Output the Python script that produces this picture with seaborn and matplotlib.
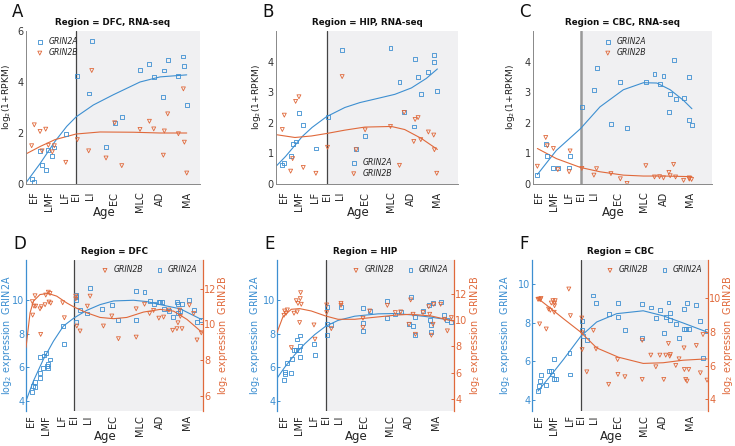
import matplotlib
matplotlib.use("Agg")
import matplotlib.pyplot as plt
import seaborn as sns
import numpy as np
import pandas as pd

sns.set_theme(style="white")
plt.rcParams["font.family"] = ["DejaVu Sans"]
plt.rcParams["xtick.direction"] = "in"
plt.rcParams["ytick.direction"] = "in"

BLUE = "#3d8fd1"
ORANGE = "#e0693b"
SHADE = "#f0f0f2"

# ---------------- data ----------------
STAGES = ["EF", "LMF", "LF", "EI", "LI", "EC", "MLC", "AD", "MA"]
STAGE_POS = [-38, -24.5, -10.3, 0, 12.2, 34.4, 58, 75.8, 100]

# Panel A (DFC, RNA-seq)
A_x = [-40.1, -37.7, -32.5, -30.7, -27.4, -25.0, -21.4, -19.6, -9.3, 1.2, 11.4, 14.2, 27.1,
       34.9, 41.3, 57.8, 66.3, 70.2, 78.9, 79.8, 82.8, 92.5, 97.0, 97.9, 100]
A_2A = [0.2, 0.07, 1.3, 0.74, 0.54, 1.33, 1.1, 1.43, 1.95, 4.22, 3.55, 5.6, 1.45, 2.4, 2.63,
        4.47, 4.7, 4.2, 3.4, 4.45, 4.85, 4.23, 5.0, 4.63, 3.1]
A_2B = [1.5, 2.32, 2.06, 1.3, 2.15, 1.52, 1.26, 1.5, 0.85, 1.74, 1.3, 4.45, 1.02, 2.4, 0.72,
        2.14, 2.46, 2.16, 1.13, 2.08, 2.75, 1.97, 3.73, 1.64, 0.43]
A_fit2A_x = [-45.2, -32.5, -19, -8.4, 0, 15.7, 33.7, 57.8, 75.9, 100]
A_fit2A_y = [0.05, 0.8, 1.67, 2.26, 2.63, 3.1, 3.5, 4.0, 4.2, 4.28]
A_fit2B_x = [-45.2, -32.5, -19, 0, 21.7, 51.8, 75.9, 100]
A_fit2B_y = [1.18, 1.47, 1.74, 1.96, 2.04, 2.03, 2.0, 2.0]

# Panel B (HIP, RNA-seq)
B_x = [-39.9, -38.1, -32.4, -30.6, -27.9, -24.9, -21.0, -9.6, 0.9, 14.1, 26.7, 34.8, 57.7,
       65.8, 70.0, 78.7, 79.9, 82.6, 85.0, 91.9, 96.7, 97.3, 99.4]
B_2A = [0.63, 0.68, 0.91, 1.3, 1.39, 2.32, 1.93, 1.16, 2.2, 4.38, 1.14, 1.58, 4.43, 3.34,
        2.34, 1.88, 4.09, 3.5, 2.94, 3.66, 4.0, 4.23, 3.05]
B_2B = [1.78, 2.25, 0.42, 0.83, 2.7, 2.85, 0.54, 0.35, 1.2, 3.51, 1.12, 1.77, 1.88, 0.61,
        2.34, 1.39, 2.11, 2.17, 1.45, 1.7, 1.6, 1.12, 0.35]
B_fit2A_x = [-45, -37, -30, -22, -13, 0, 16.5, 30, 46.5, 61.6, 76.6, 90, 100]
B_fit2A_y = [0.6, 0.9, 1.2, 1.55, 1.85, 2.2, 2.5, 2.66, 2.8, 2.93, 3.14, 3.45, 3.76]
B_fit2B_x = [-45, -28.5, -13.5, 0, 16.5, 34.5, 58.5, 70.5, 85.5, 100]
B_fit2B_y = [1.61, 1.52, 1.57, 1.65, 1.76, 1.86, 1.88, 1.78, 1.49, 1.13]

# Panel C (CBC, RNA-seq)
C_x = [-39.3, -31.7, -30.2, -24.7, -20.7, -10.4, -9.5, 1.2, 12.2, 14.6, 27.7, 36.3, 42.4,
       59.5, 67.4, 72.0, 75.6, 80.5, 81.7, 84.8, 86.6, 93.9, 99.1, 99.1, 101.2]
C_2A = [0.29, 1.32, 0.93, 0.51, 0.53, 0.54, 0.91, 2.53, 3.08, 3.79, 1.97, 3.32, 1.82, 3.32,
        3.59, 3.26, 3.53, 2.35, 2.95, 4.04, 2.79, 2.82, 3.5, 2.1, 1.93]
C_2B = [0.58, 1.52, 1.25, 1.16, 0.47, 0.4, 1.08, 0.51, 0.29, 0.5, 0.34, 0.17, 0.02, 0.6,
        0.23, 0.24, 0.2, 0.38, 0.27, 0.64, 0.23, 0.12, 0.2, 0.16, 0.15]
C_fit2A_x = [-39.3, -22, 0, 17.7, 39, 57.3, 69.5, 81.7, 93.9, 101.5]
C_fit2A_y = [0.31, 1.1, 1.81, 2.52, 3.08, 3.31, 3.3, 3.08, 2.73, 2.46]
C_fit2B_x = [-39.3, -22, 0, 17.7, 39, 57.3, 75.6, 101.5]
C_fit2B_y = [1.16, 0.83, 0.54, 0.4, 0.29, 0.26, 0.26, 0.24]

# Panel D (DFC, microarray)
D_2A_x = [-37.0, -36.1, -34.9, -34.3, -30.5, -30.2, -29.9, -27.8, -26.3, -25.1, -24.0, -23.4,
          -22.8, -21.3, -9.5, -8.6, 1.5, 1.5, 1.8, 2.1, 5.3, 11.8, 14.2, 25.1, 33.4, 39.3,
          55.0, 55.0, 62.4, 66.9, 70.4, 75.1, 76.3, 77.8, 79.3, 84.0, 87.3, 91.1, 92.0, 92.3,
          94.1, 95.6, 102.1, 105.9, 108.9, 112.7]
D_2A = [4.53, 4.89, 4.85, 5.13, 5.39, 5.64, 6.61, 5.96, 6.71, 6.83, 6.08, 6.18, 5.94, 6.47,
        8.44, 7.39, 8.73, 10.34, 10.2, 10.04, 9.4, 9.21, 10.71, 9.49, 9.74, 8.85, 10.53, 8.83,
        10.51, 9.98, 9.8, 9.92, 9.92, 9.9, 9.49, 9.36, 9.0, 9.92, 9.78, 9.25, 9.37, 9.8, 10.0,
        9.41, 8.71, 8.85]
D_2B_x = [-37.0, -36.7, -35.5, -34.6, -34.0, -30.2, -29.6, -29.0, -25.7, -25.1, -22.8, -22.2,
          -21.3, -20.7, -10.1, -8.6, 1.5, 1.5, 2.4, 5.3, 11.8, 14.2, 26.0, 33.4, 39.3, 55.0,
          55.0, 62.4, 66.9, 70.4, 75.1, 79.3, 84.0, 87.3, 91.1, 92.0, 93.5, 94.1, 95.6, 102.1,
          105.9, 108.9, 112.7]
D_2B = [11.27, 10.52, 11.02, 11.6, 11.02, 10.87, 9.44, 10.99, 11.1, 11.64, 11.8, 11.25, 11.73,
        11.19, 11.21, 10.37, 11.58, 11.43, 9.91, 9.63, 11.02, 11.58, 9.91, 10.47, 9.2, 10.87,
        9.29, 11.13, 10.61, 10.78, 10.35, 10.41, 10.8, 9.67, 9.76, 10.09, 10.8, 10.45, 9.76,
        11.08, 10.61, 9.13, 9.53]
D_fit2A_x = [-42.6, -36, -27.2, -18.3, -9.5, 0, 11.2, 23, 35, 52.7, 64.5, 76.3, 94, 113]
D_fit2A_y = [4.0, 5.19, 6.48, 7.56, 8.46, 8.95, 9.4, 9.74, 9.96, 10.0, 9.92, 9.74, 9.49, 8.85]
D_fit2B_x = [-42.6, -39, -36, -30.2, -22.8, -15.4, -6.5, 0, 11.2, 23, 35, 46.7, 61.5, 76.3,
             88.2, 100, 113]
D_fit2B_y = [8.7, 10.65, 11.3, 11.67, 11.73, 11.58, 11.2, 10.97, 10.65, 10.39, 10.32, 10.39,
             10.69, 10.84, 10.74, 10.28, 9.57]

# Panel E (HIP, microarray)
E_2A_x = [-37.8, -37.2, -36.6, -35.3, -31.1, -30.8, -29.0, -26.6, -25.7, -24.2, -23.6, -23.0,
          -23.0, -10.6, -9.7, 0.9, 0.9, 0.9, 5.1, 13.9, 33.8, 33.8, 33.8, 39.9, 55.9, 55.9,
          63.1, 68.0, 75.5, 77.6, 79.2, 81.3, 81.3, 88.2, 93.4, 94.3, 95.8, 95.8, 97.3, 104.2,
          106.9, 110.0, 113.9]
E_2A = [5.25, 5.58, 5.72, 6.28, 5.66, 6.51, 7.01, 7.01, 7.66, 7.01, 6.61, 7.9, 7.27, 7.37,
        6.75, 8.59, 7.94, 9.58, 8.55, 9.58, 8.65, 9.54, 8.16, 9.35, 9.94, 8.95, 9.15, 9.29,
        8.61, 10.2, 8.46, 8.99, 7.92, 9.35, 9.74, 8.85, 8.55, 8.12, 9.84, 9.9, 9.11, 8.81, 8.69]
E_2B_x = [-37.8, -37.2, -35.9, -34.7, -31.1, -28.7, -26.6, -25.7, -25.1, -23.6, -23.0, -22.7,
          -22.1, -10.6, -9.7, 0.9, 0.9, 5.1, 13.9, 13.9, 33.8, 33.8, 39.9, 55.9, 63.1, 68.0,
          75.5, 77.0, 79.2, 81.3, 88.2, 93.4, 94.3, 95.8, 97.3, 97.9, 104.2, 107.9, 110.3, 113.9]
E_2B = [10.36, 10.69, 10.52, 10.77, 7.91, 10.52, 11.47, 10.62, 11.27, 9.81, 11.63, 12.08, 11.2,
        9.63, 8.55, 11.15, 10.57, 9.35, 11.27, 11.12, 10.14, 9.43, 10.69, 11.12, 10.57, 10.62,
        9.68, 11.53, 10.44, 8.92, 10.57, 11.02, 10.44, 8.85, 9.68, 11.2, 11.2, 10.06, 9.18,
        10.19]
E_fit2A_x = [-44.1, -37.2, -28.1, -19, -10, 0, 11.2, 26.3, 47.4, 62.5, 77.6, 95.8, 115.4]
E_fit2A_y = [5.35, 6.0, 6.75, 7.4, 7.95, 8.45, 8.8, 9.05, 9.19, 9.21, 9.13, 8.99, 8.79]
E_fit2B_x = [-44.1, -38.7, -31.1, -23.6, -13, 0, 11.2, 26.3, 47.4, 65.6, 77.6, 95.8, 115.4]
E_fit2B_y = [9.05, 10.26, 10.82, 10.87, 10.69, 10.31, 10.06, 10.06, 10.24, 10.39, 10.44,
             10.31, 9.93]

# Panel F (CBC, microarray)
F_2A_x = [-39.3, -38.4, -37.2, -36.6, -31.7, -29.6, -27.1, -26.5, -25.0, -24.4, -22.9, -10.4,
          -9.5, 0.9, 1.2, 1.8, 5.5, 11.6, 14.0, 25.6, 33.8, 34.1, 40.5, 56.4, 56.4, 64.3, 68.9,
          72.6, 76.2, 78.0, 80.5, 81.7, 82.3, 87.2, 90.2, 94.8, 95.1, 96.3, 97.6, 99.1, 106.1,
          109.8, 112.2, 115.9]
F_2A = [4.46, 4.72, 4.98, 5.29, 4.76, 5.49, 5.49, 5.32, 6.1, 5.07, 5.07, 6.44, 5.32, 7.61,
        8.07, 7.3, 7.13, 9.41, 9.02, 8.45, 8.28, 9.02, 7.64, 8.97, 7.21, 8.79, 8.24, 8.64, 7.47,
        8.3, 9.05, 8.5, 8.16, 7.95, 7.21, 8.71, 7.68, 7.68, 9.02, 7.68, 8.93, 8.07, 6.18, 7.56]
F_2B_x = [-39.3, -38.4, -37.8, -37.2, -36.6, -31.7, -29.6, -28.0, -27.1, -25.6, -24.4, -24.1,
          -24.1, -23.5, -11.0, -9.5, 0.9, 1.2, 1.2, 5.5, 11.6, 14.0, 25.6, 33.8, 34.1, 40.5,
          56.4, 56.4, 64.3, 68.9, 72.6, 76.2, 78.0, 80.5, 81.7, 82.3, 87.2, 90.2, 94.8, 95.1,
          96.3, 97.6, 99.1, 106.1, 109.8, 112.2, 115.9]
F_2B = [9.93, 9.94, 8.47, 9.91, 9.98, 8.17, 9.35, 9.28, 9.71, 9.85, 9.16, 9.55, 9.71, 9.85,
        10.54, 8.96, 8.82, 6.95, 7.94, 5.63, 8.09, 6.99, 4.89, 6.36, 5.48, 5.34, 7.5, 5.18,
        6.62, 5.93, 6.62, 5.18, 6.62, 7.31, 6.56, 6.66, 6.01, 6.4, 7.05, 5.77, 5.18, 5.08,
        5.77, 7.19, 5.57, 7.84, 5.14]
F_fit2A_x = [-39.3, -28, -15.9, 0, 14.6, 32.9, 57.3, 75.6, 93.9, 115.9]
F_fit2A_y = [4.46, 5.24, 6.1, 7.3, 8.04, 8.47, 8.62, 8.36, 7.99, 7.52]
F_fit2B_x = [-39.3, -28, -15.9, 0, 14.6, 34.5, 57.3, 75.6, 93.9, 115.9]
F_fit2B_y = [9.98, 9.41, 8.78, 7.98, 7.05, 6.5, 6.13, 6.17, 6.32, 6.4]

# ---------------- layout ----------------
W, H = 735, 446
fig = plt.figure(figsize=(W / 100, H / 100), dpi=100)


def add_axes(l, r, t, b):
    return fig.add_axes([l / W, 1 - b / H, (r - l) / W, (b - t) / H])


def scatter(ax, x, y, marker, color, label):
    sns.scatterplot(x=x, y=y, ax=ax, marker=marker, s=8, facecolor="none",
                    edgecolor=color, linewidth=0.6, label=label, zorder=3)


def fitline(ax, x, y, color):
    sns.lineplot(x=x, y=y, ax=ax, color=color, lw=0.8, estimator=None, sort=False,
                 zorder=2)


def base_x(ax, xlim, pad, label_y, vline_color="#444444", vline_lw=0.9):
    ax.set_xlim(*xlim)
    ax.axvspan(0, xlim[1], color=SHADE, lw=0, zorder=0)
    ax.axvline(0, color=vline_color, lw=vline_lw, zorder=1)
    ax.set_xticks(STAGE_POS)
    ax.set_xticklabels(STAGES, rotation=90, fontsize=7, color="#222222")
    ax.tick_params(axis="x", length=2.5, width=0.6, color="#666666", pad=pad)
    ax.set_xlabel("Age", fontsize=8.5, color="#222222")
    ax.xaxis.set_label_coords(0.45, label_y)
    ax.set_facecolor("white")


def letter(x, y, s):
    fig.text(x / W, 1 - y / H, s, fontsize=12, ha="left", va="center", color="#111111")


def title(ax, s):
    ax.set_title(s, fontsize=6.3, fontweight="bold", pad=4, color="#111111")


top = [
    ("A", "Region = DFC, RNA-seq", (26, 200), (-45.2, 112), (0, 6), [0, 2, 4, 6], -0.074,
     A_x, A_2A, A_2B, A_fit2A_x, A_fit2A_y, A_fit2B_x, A_fit2B_y,
     dict(loc="upper left", bbox_to_anchor=(0.03, 0.99)), ("#444444", 0.9)),
    ("B", "Region = HIP, RNA-seq", (276, 458), (-45.6, 118.6), (0, 5), [0, 1, 2, 3, 4], -0.07,
     B_x, B_2A, B_2B, B_fit2A_x, B_fit2A_y, B_fit2B_x, B_fit2B_y,
     dict(loc="lower left", bbox_to_anchor=(0.38, 0.01)), ("#444444", 0.9)),
    ("C", "Region = CBC, RNA-seq", (533, 712), (-43.3, 119.8), (0, 5), [0, 1, 2, 3, 4], -0.09,
     C_x, C_2A, C_2B, C_fit2A_x, C_fit2A_y, C_fit2B_x, C_fit2B_y,
     dict(loc="upper left", bbox_to_anchor=(0.37, 0.99)), ("#999999", 1.8)),
]

for (let, ttl, (l, r), xlim, ylim, yt, ylx, x, y2a, y2b, fax, fay, fbx, fby, legkw, vl) in top:
    ax = add_axes(l, r, 31, 184)
    base_x(ax, xlim, 5.5, -0.145, *vl)
    scatter(ax, x, y2a, "s", BLUE, "GRIN2A")
    scatter(ax, x, y2b, "v", ORANGE, "GRIN2B")
    fitline(ax, fax, fay, BLUE)
    fitline(ax, fbx, fby, ORANGE)
    ax.set_ylim(*ylim)
    ax.set_yticks(yt)
    ax.tick_params(axis="y", labelsize=7, length=2.5, width=0.6, color="#666666",
                   labelcolor="#333333", pad=1.5)
    ax.set_ylabel("log$_2$(1+RPKM)", fontsize=6.6, color="#222222")
    ax.yaxis.set_label_coords(ylx, 0.57)
    for s in ["top", "right"]:
        ax.spines[s].set_visible(False)
    for s in ["left", "bottom"]:
        ax.spines[s].set_color("#888888")
        ax.spines[s].set_linewidth(0.7)
    h, lb = ax.get_legend_handles_labels()
    ax.legend(h, lb, frameon=False, prop={"style": "italic", "size": 5.6},
              handlelength=1.0, handletextpad=0.6, borderaxespad=0.2, labelspacing=0.25,
              **legkw)
    title(ax, ttl)
    letter(l - 14, 12, let)

bottom = [
    ("D", "Region = DFC", (26, 203), (-42.6, 114.2), (3.4, 12.4), (5.16, 13.6),
     [4, 6, 8, 10], [6, 8, 10, 12], -0.07, 1.075,
     D_2A_x, D_2A, D_2B_x, D_2B, D_fit2A_x, D_fit2A_y, D_fit2B_x, D_fit2B_y),
    ("E", "Region = HIP", (277, 454), (-44.1, 116.3), (3.4, 12.4), (3.1, 14.56),
     [4, 6, 8, 10], [4, 6, 8, 10, 12], -0.085, 1.08,
     E_2A_x, E_2A, E_2B_x, E_2B, E_fit2A_x, E_fit2A_y, E_fit2B_x, E_fit2B_y),
    ("F", "Region = CBC", (532, 708), (-44.8, 116.8), (3.43, 11.25), (3.31, 12.26),
     [4, 6, 8, 10], [4, 6, 8, 10], -0.115, 1.072,
     F_2A_x, F_2A, F_2B_x, F_2B, F_fit2A_x, F_fit2A_y, F_fit2B_x, F_fit2B_y),
]

for (let, ttl, (l, r), xlim, yl, yr, ytl, ytr, lx, rx,
     xa, ya, xb, yb, fax, fay, fbx, fby) in bottom:
    ax = add_axes(l, r, 260, 411)
    base_x(ax, xlim, 3, -0.125)
    ax2 = ax.twinx()
    scatter(ax, xa, ya, "s", BLUE, "GRIN2A")
    fitline(ax, fax, fay, BLUE)
    scatter(ax2, xb, yb, "v", ORANGE, "GRIN2B")
    fitline(ax2, fbx, fby, ORANGE)
    ax.set_ylim(*yl)
    ax2.set_ylim(*yr)
    ax.set_yticks(ytl)
    ax2.set_yticks(ytr)
    ax.tick_params(axis="y", labelsize=7, length=2.5, width=0.7, color=BLUE,
                   labelcolor=BLUE, pad=1)
    ax2.tick_params(axis="y", labelsize=7, length=2.5, width=0.7, color=ORANGE,
                    labelcolor=ORANGE, pad=1, direction="in")
    ax.set_ylabel("log$_2$ expression  GRIN2A", fontsize=6.9, color=BLUE)
    ax.yaxis.set_label_coords(lx, 0.5)
    ax2.set_ylabel("log$_2$ expression  GRIN2B", fontsize=6.9, color=ORANGE)
    ax2.yaxis.set_label_coords(rx, 0.5)
    ax2.set_xlim(*xlim)
    for a in (ax, ax2):
        a.spines["top"].set_visible(False)
        a.spines["bottom"].set_visible(False)
    ax.spines["right"].set_visible(False)
    ax2.spines["left"].set_visible(False)
    ax.spines["left"].set_color(BLUE)
    ax.spines["left"].set_linewidth(0.9)
    ax2.spines["right"].set_color(ORANGE)
    ax2.spines["right"].set_linewidth(0.9)
    if ax.get_legend():
        ax.get_legend().remove()
    h1, l1 = ax.get_legend_handles_labels()
    h2, l2 = ax2.get_legend_handles_labels()
    ax2.legend(h2 + h1, l2 + l1, ncol=2, frameon=False, loc="upper right",
               bbox_to_anchor=(1.0, 1.0), prop={"style": "italic", "size": 5.6},
               handlelength=1.0, handletextpad=0.6, columnspacing=1.6,
               borderaxespad=0.3)
    title(ax, ttl)
    letter(l - 13, 244, let)

fig.savefig("out.png", dpi=100)
